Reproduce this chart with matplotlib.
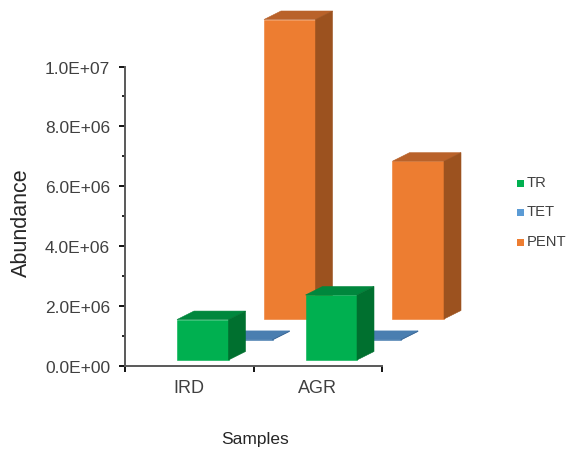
import matplotlib
matplotlib.use("Agg")
import matplotlib.pyplot as plt
from matplotlib.patches import Polygon, Rectangle

plt.rcParams['font.family'] = ['Liberation Sans', 'DejaVu Sans']

# Chart data
samples = ["IRD", "AGR"]
series_names = ["TR", "TET", "PENT"]
tr_values = [1.35e6, 2.17e6]
tet_values = [2.0e4, 2.0e4]
pent_values = [1.0e7, 5.27e6]
y_ticks = [0, 2e6, 4e6, 6e6, 8e6, 1e7]
y_tick_labels = ["0.0E+00", "2.0E+06", "4.0E+06", "6.0E+06", "8.0E+06", "1.0E+07"]

W, H = 566, 452
fig = plt.figure(figsize=(W / 100, H / 100), dpi=100, facecolor="white")
ax = fig.add_axes([125 / W, 1 - 367 / H, 257 / W, 299.5 / H])
ax.set_xlim(0, 2)
ax.set_ylim(0, 1e7)

PX_X = 2 / 257      # one pixel along x, in category units
PX_Y = 1e7 / 299.5  # one pixel along y, in value units
DEPTH_X, DEPTH_Y = 17 * PX_X, 8.5 * PX_Y
BAR_W = 51.5 * PX_X

# Each series sits one step further back in the oblique projection
layers = [
    ("TR", tr_values, 52, 6, "#00b050", "#00873d", "#00702f"),
    ("TET", tet_values, 96, 26, "#4a7eb0", "#4a7eb0", "#3f6d9c"),
    ("PENT", pent_values, 139, 47, "#ed7d31", "#b9622a", "#9c521f"),
]


def draw_box(x0, base, value, front, top, side, z):
    x1 = x0 + BAR_W
    y1 = base + value
    dx, dy = DEPTH_X, DEPTH_Y
    kw = dict(clip_on=False, zorder=z, linewidth=0.4)
    ax.add_patch(Polygon([(x0, base), (x1, base), (x1, y1), (x0, y1)],
                         facecolor=front, edgecolor=front, **kw))
    ax.add_patch(Polygon([(x0, y1), (x1, y1), (x1 + dx, y1 + dy), (x0 + dx, y1 + dy)],
                         facecolor=top, edgecolor=top, **kw))
    ax.add_patch(Polygon([(x1, base), (x1 + dx, base + dy), (x1 + dx, y1 + dy), (x1, y1)],
                         facecolor=side, edgecolor=side, **kw))


# Back row first so nearer bars overlap it
for order, (name, values, off_x, off_y, front, top, side) in zip((5, 4, 3), layers):
    for i, v in enumerate(values):
        draw_box(i + off_x * PX_X, off_y * PX_Y, v, front, top, side, order)

# Axes styling
for s in ("top", "right"):
    ax.spines[s].set_visible(False)
for s in ("left", "bottom"):
    ax.spines[s].set_color("#595959")
    ax.spines[s].set_linewidth(1.4)
ax.patch.set_alpha(0)

ax.set_xticks([0, 1, 2])
ax.set_xticklabels([])
ax.set_xticks([0.5, 1.5], minor=True)
ax.set_xticklabels(samples, minor=True)
ax.tick_params(axis="x", which="major", length=4.2, width=1.3, color="black", direction="out")
ax.tick_params(axis="x", which="minor", length=0, pad=9.5, labelsize=13, labelcolor="#404040")

ax.set_yticks(y_ticks)
ax.set_yticklabels(y_tick_labels)
ax.set_yticks([1e6, 3e6, 5e6, 7e6, 9e6], minor=True)
ax.tick_params(axis="y", which="major", length=4.2, width=1.3, color="black",
               labelsize=12.5, labelcolor="#404040", pad=6.5)
ax.tick_params(axis="y", which="minor", length=2.2, width=1.2, color="black")

fig.text(21 / W, 1 - 223 / H, "Abundance", rotation=90, ha="center", va="center",
         fontsize=15.5, color="#262626")
fig.text(255 / W, 1 - 440 / H, "Samples", ha="center", va="center",
         fontsize=12.5, color="#262626")

# Legend drawn as small squares beside the plot
legend_colors = ["#00b050", "#5b9bd5", "#ed7d31"]
for name, colour, y in zip(series_names, legend_colors, (184, 213, 243)):
    fig.add_artist(Rectangle((516.5 / W, 1 - (y + 3.5) / H), 7 / W, 7 / H,
                             transform=fig.transFigure, facecolor=colour, edgecolor="none"))
    fig.text(526.5 / W, 1 - (y - 1) / H, name, ha="left", va="center",
             fontsize=10.6, color="#404040")

fig.savefig("out.png", dpi=100, facecolor="white")
